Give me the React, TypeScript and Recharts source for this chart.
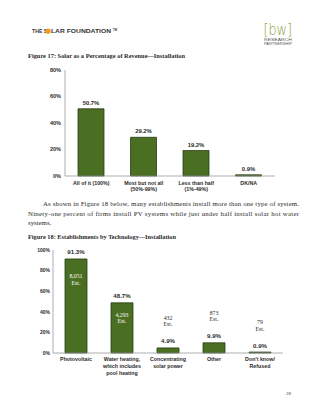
import React from "react";
import { BarChart, Bar, XAxis, YAxis, LabelList } from "recharts";

const revCategories = ["All of it (100%)", "Most but not all\n(50%-99%)", "Less than half\n(1%-49%)", "DK/NA"];
const revValues = [50.7, 29.2, 19.2, 0.9];
const revTicks = [0, 20, 40, 60, 80];

const techCategories = [
  "Photovoltaic",
  "Water heating,\nwhich includes\npool heating",
  "Concentrating\nsolar power",
  "Other",
  "Don't know/\nRefused",
];
const techValues = [91.3, 48.7, 4.9, 9.9, 0.9];
const techEstimates = ["8,051", "4,293", "432", "873", "79"];
const techTicks = [0, 20, 40, 60, 80, 100];

const revData = revCategories.map((name, i) => ({ name, value: revValues[i] }));
const techData = techCategories.map((name, i) => ({ name, value: techValues[i], est: techEstimates[i] }));

const SANS = "'Liberation Sans', Arial, sans-serif";
const SERIF = "'Liberation Serif', 'Times New Roman', serif";
const BAR_FILL = "#4a6e22";
const BAR_STROKE = "#2a3c12";
const TEXT = "#2a2a2a";

const getBox = (p: any) => {
  const vb = p.viewBox && p.viewBox.width !== undefined ? p.viewBox : p;
  return { x: Number(vb.x), y: Number(vb.y), width: Number(vb.width), height: Number(vb.height) };
};

const makeTick = (firstDy: number, lineH: number) => (props: any) => {
  const { x, y, payload } = props;
  const lines = String(payload.value).split("\n");
  return (
    <text x={x} y={y} textAnchor="middle" fontFamily={SANS} fontWeight="bold" fontSize={5.3} fill={TEXT}>
      {lines.map((l, i) => (
        <tspan key={i} x={x} dy={i === 0 ? firstDy : lineH}>
          {l}
        </tspan>
      ))}
    </text>
  );
};

const pctLabel = (offset: number, size: number) => (props: any) => {
  const { x, y, width } = getBox(props);
  return (
    <text x={x + width / 2} y={y - offset} textAnchor="middle" fontFamily={SANS} fontWeight="bold" fontSize={size} fill={TEXT}>
      {`${props.value}%`}
    </text>
  );
};

const estLabel = (props: any) => {
  const { x, y, width, height } = getBox(props);
  const cx = x + width / 2;
  const inside = height > 30;
  const top = inside ? y + 8 + height * 0.12 : y - 28;
  return (
    <text x={cx} y={top} textAnchor="middle" fontFamily={SERIF} fontSize={5.8} fill={inside ? "#ffffff" : TEXT}>
      <tspan x={cx} dy={0}>{props.value}</tspan>
      <tspan x={cx} dy={6.5}>Est.</tspan>
    </text>
  );
};

export default function App() {
  return (
    <div style={{ position: "absolute", left: 0, top: 0, width: 320, height: 414, background: "#fff", overflow: "hidden" }}>
      <svg width={320} height={414} style={{ position: "absolute", left: 0, top: 0 }}>
        {/* header */}
        <text x={32} y={33} fontFamily={SANS} fontWeight="bold" fontSize={5.2} fill="#333">THE S</text>
        <circle cx={48} cy={31.2} r={2.6} fill="#f29a1f" />
        <text x={51} y={33} fontFamily={SANS} fontWeight="bold" fontSize={5.2} fill="#333" textLength={60} lengthAdjust="spacingAndGlyphs">LAR FOUNDATION</text>
        <text x={113} y={31} fontFamily={SANS} fontWeight="bold" fontSize={2.8} fill="#333">TM</text>
        <text x={263.5} y={34.5} fontFamily="'DejaVu Sans', sans-serif" fontWeight={200} fontSize={16} fill="#8a9f3e" textLength={28.5} lengthAdjust="spacingAndGlyphs">[bw]</text>
        <text x={264} y={41} fontFamily={SANS} fontSize={3.2} fill="#555" textLength={28} lengthAdjust="spacingAndGlyphs">RESEARCH</text>
        <text x={264} y={44.5} fontFamily={SANS} fontSize={3.2} fill="#555" textLength={28} lengthAdjust="spacingAndGlyphs">PARTNERSHIP</text>

        <text x={28} y={57.5} fontFamily={SERIF} fontWeight="bold" fontSize={6.8} fill={TEXT} textLength={157} lengthAdjust="spacingAndGlyphs">
          Figure 17: Solar as a Percentage of Revenue—Installation
        </text>

        <text x={43} y={206} fontFamily={SERIF} fontSize={6.8} fill={TEXT} textLength={256} lengthAdjust="spacing">
          As shown in Figure 18 below, many establishments install more than one type of system.
        </text>
        <text x={28} y={215.5} fontFamily={SERIF} fontSize={6.8} fill={TEXT} textLength={271} lengthAdjust="spacing">
          Ninety-one percent of firms install PV systems while just under half install solar hot water
        </text>
        <text x={28} y={225} fontFamily={SERIF} fontSize={6.8} fill={TEXT}>systems.</text>

        <text x={28} y={238.5} fontFamily={SERIF} fontWeight="bold" fontSize={6.8} fill={TEXT} textLength={148} lengthAdjust="spacingAndGlyphs">
          Figure 18: Establishments by Technology—Installation
        </text>

        <text x={286} y={395} fontFamily={SERIF} fontSize={5} fill="#444">28</text>
      </svg>

      <div style={{ position: "absolute", left: 0, top: 60 }}>
        <BarChart width={320} height={146} data={revData} margin={{ top: 10, right: 45, left: 20, bottom: 0 }}>
          <XAxis
            dataKey="name"
            height={30}
            interval={0}
            tickLine={false}
            tickSize={0}
            tickMargin={0}
            axisLine={{ stroke: "#999", strokeWidth: 0.8 }}
            tick={makeTick(9, 6)}
          />
          <YAxis
            width={45}
            domain={[0, 80]}
            ticks={revTicks}
            tickFormatter={(v: number) => `${v}%`}
            tickLine={false}
            tickSize={0}
            tickMargin={4}
            axisLine={{ stroke: "#999", strokeWidth: 0.8 }}
            tick={{ fontFamily: SANS, fontWeight: "bold", fontSize: 5.5, fill: TEXT }}
          />
          <Bar dataKey="value" barSize={26} fill={BAR_FILL} stroke={BAR_STROKE} strokeWidth={0.8} isAnimationActive={false}>
            <LabelList dataKey="value" content={pctLabel(4, 5.9)} />
          </Bar>
        </BarChart>
      </div>

      <div style={{ position: "absolute", left: 0, top: 240 }}>
        <BarChart width={320} height={143} data={techData} margin={{ top: 10, right: 37, left: 20, bottom: 0 }}>
          <XAxis
            dataKey="name"
            height={30}
            interval={0}
            tickLine={false}
            tickSize={0}
            tickMargin={0}
            axisLine={{ stroke: "#999", strokeWidth: 0.8 }}
            tick={makeTick(8, 7)}
          />
          <YAxis
            width={33}
            domain={[0, 100]}
            ticks={techTicks}
            tickFormatter={(v: number) => `${v}%`}
            tickLine={false}
            tickSize={0}
            tickMargin={3}
            axisLine={{ stroke: "#999", strokeWidth: 0.8 }}
            tick={{ fontFamily: SANS, fontWeight: "bold", fontSize: 5, fill: TEXT }}
          />
          <Bar dataKey="value" barSize={22} fill={BAR_FILL} stroke={BAR_STROKE} strokeWidth={0.8} isAnimationActive={false}>
            <LabelList dataKey="value" content={pctLabel(4.5, 6.1)} />
            <LabelList dataKey="est" content={estLabel} />
          </Bar>
        </BarChart>
      </div>
    </div>
  );
}
